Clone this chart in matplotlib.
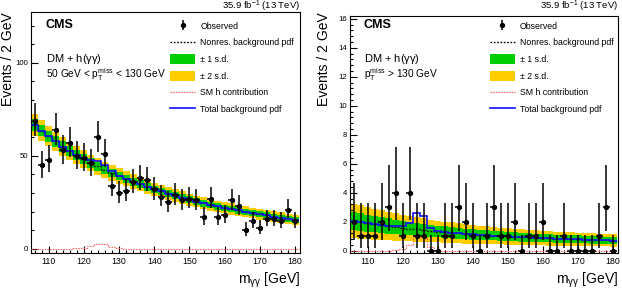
import math
import numpy as np
import matplotlib
matplotlib.use("Agg")
import matplotlib.pyplot as plt
from matplotlib.lines import Line2D
from matplotlib.patches import Patch

plt.rcParams['font.family'] = ['Liberation Sans', 'DejaVu Sans']
plt.rcParams['mathtext.fontset'] = 'custom'
plt.rcParams['mathtext.rm'] = 'Liberation Sans'
plt.rcParams['mathtext.it'] = 'Liberation Sans:italic'
plt.rcParams['mathtext.bf'] = 'Liberation Sans:bold'

# ---------------- data ----------------
bin_edges = [105, 107, 109, 111, 113, 115, 117, 119, 121, 123, 125, 127, 129, 131, 133,
             135, 137, 139, 141, 143, 145, 147, 149, 151, 153, 155, 157, 159, 161, 163,
             165, 167, 169, 171, 173, 175, 177, 179, 181]
mass_centers = [106, 108, 110, 112, 114, 116, 118, 120, 122, 124, 126, 128, 130, 132, 134,
                136, 138, 140, 142, 144, 146, 148, 150, 152, 154, 156, 158, 160, 162, 164,
                166, 168, 170, 172, 174, 176, 178, 180]

# left: 50 < pTmiss < 130 GeV
obs_low = [69, 45, 48, 64, 53, 57, 50, 49, 46, 60, 51, 34, 30, 31, 36, 38, 37, 32, 28, 25,
           29, 26, 27, 26, 17, 27, 17, 18, 26, 23, 10, 15, 11, 16, 16, 15, 21, 15]
nonres_low = [66.5, 63.5, 60.5, 57.8, 55.0, 52.6, 50.3, 48.2, 46.2, 44.3, 42.5, 40.8, 39.2,
              37.6, 36.1, 34.7, 33.3, 32.0, 30.8, 29.6, 28.5, 27.4, 26.4, 25.4, 24.5, 23.6,
              22.8, 22.1, 21.4, 20.6, 19.9, 19.2, 18.6, 18.0, 17.3, 16.7, 16.1, 15.5]
err1_low = [3.2, 3.1, 3.0, 2.9, 2.8, 2.7, 2.65, 2.6, 2.5, 2.45, 2.4, 2.3, 2.25, 2.2, 2.15,
            2.1, 2.05, 2.0, 2.0, 1.95, 1.9, 1.9, 1.85, 1.8, 1.8, 1.75, 1.75, 1.7, 1.7, 1.7,
            1.65, 1.65, 1.65, 1.6, 1.6, 1.6, 1.6, 1.6]
err2_low = [5.8, 5.6, 5.4, 5.2, 5.0, 4.9, 4.8, 4.7, 4.5, 4.4, 4.3, 4.2, 4.1, 4.0, 3.9, 3.8,
            3.7, 3.6, 3.6, 3.5, 3.4, 3.4, 3.3, 3.2, 3.2, 3.1, 3.1, 3.0, 3.0, 3.0, 2.9, 2.9,
            2.9, 2.8, 2.8, 2.8, 2.8, 2.8]
smh_low = [0, 0, 0, 0, 0, 0, 0.2, 0.6, 1.4, 2.7, 2.6, 1.0, 0.2, 0, 0, 0, 0, 0, 0, 0,
           0, 0, 0, 0, 0, 0, 0, 0, 0, 0, 0, 0, 0, 0, 0, 0, 0, 0]

# right: pTmiss > 130 GeV
obs_high = [2, 1, 1, 1, 2, 3, 4, 1, 4, 1, 1, 0, 0, 1, 1, 3, 2, 1, 0, 1, 3, 1, 1, 2, 0,
            1, 1, 2, 0, 0, 1, 0, 0, 0, 0, 1, 3, 0]
nonres_high = [2.05, 1.97, 1.90, 1.83, 1.76, 1.70, 1.64, 1.58, 1.52, 1.47, 1.42, 1.37, 1.32,
               1.28, 1.24, 1.20, 1.16, 1.13, 1.10, 1.07, 1.04, 1.01, 0.98, 0.96, 0.93, 0.91,
               0.89, 0.87, 0.85, 0.83, 0.81, 0.79, 0.78, 0.76, 0.75, 0.73, 0.72, 0.70]
err1_high = [0.63, 0.61, 0.59, 0.57, 0.55, 0.53, 0.51, 0.49, 0.47, 0.46, 0.44, 0.43, 0.41,
             0.40, 0.39, 0.38, 0.37, 0.36, 0.35, 0.34, 0.33, 0.32, 0.31, 0.31, 0.30, 0.30,
             0.29, 0.29, 0.28, 0.28, 0.27, 0.27, 0.27, 0.26, 0.26, 0.26, 0.25, 0.25]
err2_high = [1.20, 1.15, 1.10, 1.06, 1.02, 0.98, 0.94, 0.90, 0.87, 0.84, 0.81, 0.78, 0.75,
             0.73, 0.71, 0.69, 0.67, 0.65, 0.63, 0.61, 0.60, 0.58, 0.57, 0.55, 0.54, 0.53,
             0.52, 0.51, 0.50, 0.49, 0.48, 0.47, 0.46, 0.45, 0.44, 0.44, 0.43, 0.42]
smh_high = [0, 0, 0, 0, 0, 0, 0.03, 0.12, 0.38, 1.1, 0.95, 0.22, 0.05, 0, 0, 0, 0, 0, 0, 0,
            0, 0, 0, 0, 0, 0, 0, 0, 0, 0, 0, 0, 0, 0, 0, 0, 0, 0]
zero_count_up = 1.1   # drawn upper bar for empty bins

x_ticks = [110, 120, 130, 140, 150, 160, 170, 180]
y_ticks_low = [0, 50, 100]
y_ticks_high = [0, 2, 4, 6, 8, 10, 12, 14, 16]

legend_labels = ['Observed', 'Nonres. background pdf', '\u00b1 1 s.d.', '\u00b1 2 s.d.',
                 'SM h contribution', 'Total background pdf']

GREEN = '#00cc00'
YELLOW = '#ffcc00'
BLUE = '#1010f0'
RED = '#ff5050'


# ---------------- helpers ----------------
def pois_cdf(n, mu):
    if n < 0:
        return 0.0
    s = 0.0
    for k in range(n + 1):
        s += math.exp(k * math.log(mu) - mu - math.lgamma(k + 1))
    return s


def solve(f, lo, hi):
    for _ in range(80):
        mid = 0.5 * (lo + hi)
        if f(mid) > 0:
            lo = mid
        else:
            hi = mid
    return 0.5 * (lo + hi)


def garwood(n):
    a = (1 - 0.682689) / 2
    if n == 0:
        return 0.0, zero_count_up
    up = solve(lambda mu: pois_cdf(n, mu) - a, n, n + 10 * math.sqrt(n) + 10)
    lo = solve(lambda mu: a - (1 - pois_cdf(n - 1, mu)), 1e-9, n)
    return n - lo, up - n


fig = plt.figure(figsize=(6.22, 2.93), dpi=100)
W, H = 622.0, 293.0
ax1 = fig.add_axes([31 / W, (H - 253) / H, 269 / W, 241 / H])
ax2 = fig.add_axes([350 / W, (H - 253) / H, 268 / W, 237 / H])


def draw(ax, obs, nonres, e1, e2, smh):
    nonres = np.asarray(nonres)
    e1 = np.asarray(e1)
    e2 = np.asarray(e2)
    total = nonres + np.asarray(smh)
    ax.stairs(nonres + e2, bin_edges, baseline=nonres - e2, fill=True, color=YELLOW, lw=0, zorder=1)
    ax.stairs(nonres + e1, bin_edges, baseline=nonres - e1, fill=True, color=GREEN, lw=0, zorder=2)
    ax.stairs(smh, bin_edges, baseline=None, color=RED, ls=(0, (1.2, 1.2)), lw=0.8, zorder=3)
    ax.stairs(nonres, bin_edges, baseline=None, color='k', ls=(0, (1.2, 1.2)), lw=1.0, zorder=4)
    ax.stairs(total, bin_edges, baseline=None, color=BLUE, lw=1.2, zorder=5)
    errs = [garwood(n) for n in obs]
    lo = [e[0] for e in errs]
    up = [e[1] for e in errs]
    ax.errorbar(mass_centers, obs, xerr=1.0, yerr=[lo, up], fmt='o', ms=2.8, color='k',
                elinewidth=1.1, capsize=0, zorder=6)
    ax.set_xlim(105, 181.4)
    ax.set_xticks(x_ticks)
    ax.set_xticks(np.arange(106, 181, 2), minor=True)
    ax.tick_params(which='both', direction='in', width=0.8, top=False, right=False)
    ax.tick_params(axis='x', labelsize=6.3, pad=3)
    ax.tick_params(axis='y', labelsize=5.6, pad=2)
    ax.tick_params(which='major', length=5)
    ax.tick_params(which='minor', length=2.5)
    for s in ax.spines.values():
        s.set_linewidth(0.8)
    ax.set_xlabel(r'$\mathregular{m_{\gamma\gamma}}$ [GeV]', fontsize=10, loc='right', labelpad=3)


draw(ax1, obs_low, nonres_low, err1_low, err2_low, smh_low)
draw(ax2, obs_high, nonres_high, err1_high, err2_high, smh_high)

ax1.set_ylim(-2.3, 127.4)
ax1.set_yticks(y_ticks_low)
ax1.set_yticks(np.arange(0, 128, 10), minor=True)
ax2.set_ylim(-0.16, 16.2)
ax2.set_yticks(y_ticks_high)
ax2.set_yticks(np.arange(0, 16.2, 0.4), minor=True)

for ylab_x in (1, 317):
    fig.text(ylab_x / W, 1 - 12 / H, 'Events / 2 GeV', rotation=90, ha='left', va='top', fontsize=10)

panels = ((ax1, 31, 12, 269, 241), (ax2, 350, 16, 268, 237))
subtitles = (r'50 GeV < $\mathregular{p_{T}^{miss}}$ < 130 GeV', r'$\mathregular{p_{T}^{miss}}$ > 130 GeV')
text_left = (46, 364)

for (ax, axl, top, wid, hei), sub, tx in zip(panels, subtitles, text_left):
    def fy(ypix):
        return 1 - (ypix - top) / hei
    fx = (tx - axl) / wid
    ax.text(fx, fy(25), 'CMS', transform=ax.transAxes, fontsize=9, fontweight='bold',
            ha='left', va='center')
    ax.text(fx, fy(58.5), r'DM + h($\mathregular{\gamma\gamma}$)', transform=ax.transAxes,
            fontsize=8, ha='left', va='center')
    ax.text(fx, fy(75), sub, transform=ax.transAxes, fontsize=7.3, ha='left', va='center')

for xr in (300, 618):
    fig.text(xr / W, 1 - 9 / H, r'35.9 fb$^{\mathregular{-1}}$ (13 TeV)', fontsize=6.8,
             ha='right', va='baseline')


def make_handles():
    return [
        (Line2D([], [], marker='|', ms=6.5, mew=1.1, color='k', ls='none'),
         Line2D([], [], marker='o', ms=2.8, color='k', ls='none')),
        Line2D([], [], color='k', ls=(0, (1.2, 1.2)), lw=1.0),
        Patch(facecolor=GREEN, edgecolor='none'),
        Patch(facecolor=YELLOW, edgecolor='none'),
        Line2D([], [], color=RED, ls=(0, (1.2, 1.2)), lw=0.8),
        Line2D([], [], color=BLUE, lw=1.2),
    ]


for (ax, axl, top, wid, hei), x0 in zip(panels, (170, 489.5)):
    ax.legend(make_handles(), legend_labels, loc='upper left',
              bbox_to_anchor=((x0 - axl) / wid, 1 - (21 - top) / hei),
              frameon=False, fontsize=6.3, handlelength=2.86, handleheight=1.35,
              labelspacing=0.78, handletextpad=0.6, borderpad=0, borderaxespad=0)

fig.savefig('out.png', dpi=100)
